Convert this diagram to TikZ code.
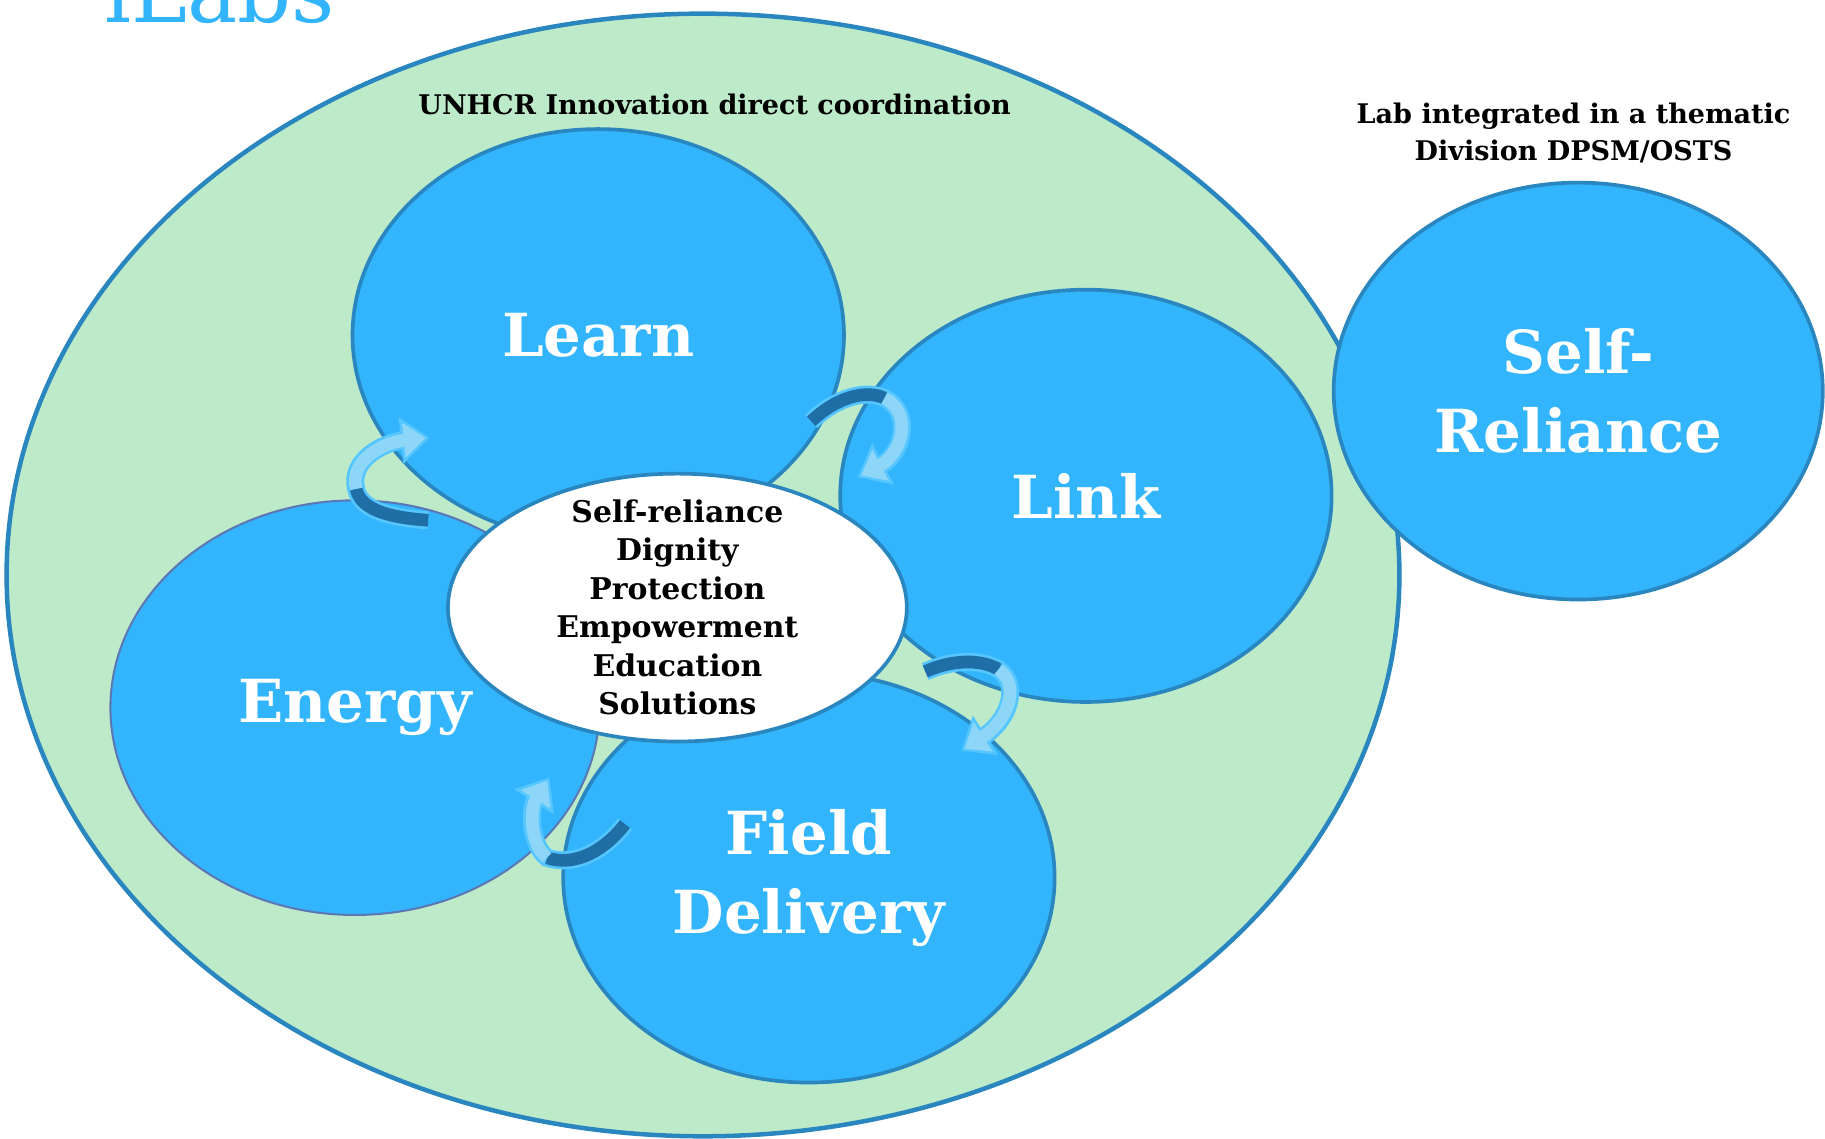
\documentclass[tikz,border=0pt]{standalone}
\usepackage{fontspec}
\setmainfont{DejaVu Serif}
\usetikzlibrary{shapes.geometric,arrows.meta}

\definecolor{labblue}{HTML}{33B5FD}
\definecolor{labedge}{HTML}{2A86BF}
\definecolor{zonegreen}{HTML}{BDEBCA}
\definecolor{energyedge}{HTML}{5B78B5}
\definecolor{ribbonrim}{HTML}{55C6FF}
\definecolor{ribbondeep}{HTML}{1F6EA6}
\definecolor{ribbonpale}{HTML}{8ED6F8}

% one curved cycle arrow: dark tail, pale head
\newcommand{\cyclearrow}[7]{%
  \draw[rimline, -{Triangle[width=11pt,length=7pt]}] #1 .. controls #2 and #3 .. #4 .. controls #5 and #6 .. #7;
  \draw[tailband] #1 .. controls #2 and #3 .. #4;
  \draw[headband, shorten >=0.9pt, -{Triangle[width=8.2pt,length=5.4pt]}] #4 .. controls #5 and #6 .. #7;
}

\begin{document}
\begin{tikzpicture}[x=0.01cm, y=-0.01cm,
    lab/.style={ellipse, draw=labedge, line width=0.9pt, fill=labblue, text=white,
      font=\bfseries\fontsize{14.5}{19.3}\selectfont, align=center, inner sep=0pt,
      minimum width=4.22cm, minimum height=3.54cm},
    core/.style={ellipse, draw=labedge, line width=0.9pt, fill=white,
      font=\bfseries\fontsize{7.3}{9.4}\selectfont, align=center, inner xsep=0pt, inner ysep=-0.4cm},
    caption/.style={font=\bfseries\fontsize{6.6}{9}\selectfont, align=center, inner sep=0pt},
    rimline/.style={draw=ribbonrim, line width=4.4pt},
    tailband/.style={draw=ribbondeep, line width=3.1pt},
    headband/.style={draw=ribbonpale, line width=3.1pt}
  ]
  \useasboundingbox (0,0) rectangle (1568,978);

  % title, cut by the top edge
  \node[anchor=base west, inner sep=0pt, text=labblue, font=\fontsize{20.6}{24}\selectfont] (title) at (89,19) {iLabs};

  % direct coordination zone
  \node[ellipse, draw=labedge, line width=1.1pt, fill=zonegreen, minimum width=11.96cm, minimum height=9.64cm] (zone) at (604,494) {};
  \node[caption] (zonecap) at (614,90) {UNHCR Innovation direct coordination};

  % labs
  \node[lab] (learn) at (514,288) {Learn};
  \node[lab] (link) at (933,426) {Link};
  \node[lab, draw=energyedge, line width=0.5pt, minimum width=4.2cm, minimum height=3.56cm] (energy) at (305,608) {Energy};
  \node[lab, minimum height=3.52cm] (field) at (695,754) {Field\\Delivery};
  \node[lab, minimum width=4.2cm, minimum height=3.58cm] (selfrel) at (1356,336) {Self-\\Reliance};
  \node[caption] (thematic) at (1352,114) {Lab integrated in a thematic\\Division DPSM/OSTS};

  % shared values
  \node[core, minimum width=3.94cm, minimum height=2.3cm] (values) at (582,522)
    {Self-reliance\\Dignity\\Protection\\Empowerment\\Education\\Solutions};

  % cycle arrows
  \cyclearrow{(697,362)}{(720,340)}{(745,335)}{(760,342)}{(785,355)}{(775,390)}{(737,410)}
  \cyclearrow{(368,447)}{(340,445)}{(310,440)}{(306,420)}{(300,395)}{(330,380)}{(369,376)}
  \cyclearrow{(795,577)}{(815,568)}{(840,565)}{(858,575)}{(878,590)}{(865,620)}{(826,645)}
  \cyclearrow{(537,708)}{(520,730)}{(495,745)}{(470,737)}{(455,725)}{(455,695)}{(472,668)}
\end{tikzpicture}
\end{document}
